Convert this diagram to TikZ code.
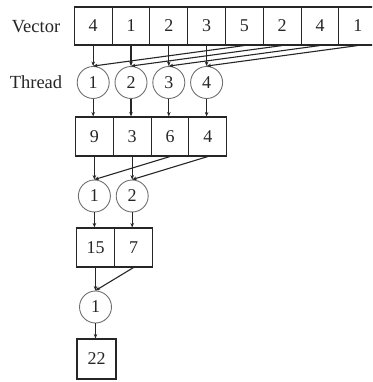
\documentclass[tikz,border=0pt]{standalone}
\usepackage{fontspec}
\setmainfont{Liberation Serif}
\usetikzlibrary{arrows.meta}
\definecolor{ink}{HTML}{262626}
\definecolor{ring}{HTML}{707070}
\tikzset{
  cell/.style={draw=ink, line width=1.1pt, minimum width=37.8pt, minimum height=38.5pt,
    inner sep=0pt, text=ink, font=\fontsize{18}{18}\selectfont},
  worker/.style={circle, draw=ring, line width=0.9pt, minimum size=32pt, inner sep=0pt,
    text=ink, font=\fontsize{18}{18}\selectfont},
  lbl/.style={text=ink, font=\fontsize{18.5}{18.5}\selectfont, inner sep=0pt},
  flow/.style={draw=ink, line width=1.1pt, -{Stealth[length=4.5pt,width=3.6pt]}}
}
\begin{document}
\begin{tikzpicture}[x=1pt, y=-1pt]
\useasboundingbox (0,0) rectangle (372,382);
\clip (0,0) rectangle (372,382);

% row labels
\node[lbl] (labV) at (36,27) {Vector};
\node[lbl] (labT) at (36,82) {Thread};

% input vector
\foreach \v [count=\i] in {4,1,2,3,5,2,4,1}
  \node[cell, minimum height=38pt] (v\i) at ({74.3+37.8*(\i-0.5)},26) {\v};

% first pass: four threads
\foreach \i in {1,...,4}
  \node[worker] (t\i) at ({74.3+37.8*(\i-0.5)},82.5) {\i};

% first partial sums
\foreach \v [count=\i] in {9,3,6,4}
  \node[cell, minimum height=39pt] (s\i) at ({75.5+37.8*(\i-0.5)},136.5) {\v};

% second pass: two threads
\foreach \i in {1,2}
  \node[worker] (u\i) at ({75.5+37.8*(\i-0.5)},196) {\i};

% second partial sums
\node[cell, minimum width=38pt, minimum height=39pt] (r1) at (95.5,247.5) {15};
\node[cell, minimum width=38pt, minimum height=39pt] (r2) at (133.5,247.5) {7};

% third pass: one thread
\node[worker] (w1) at (95.5,307) {1};

% result
\node[cell, minimum width=39pt, minimum height=40pt] (f) at (96.5,359) {22};

% connectors, pass 1
\foreach \i [evaluate=\i as \j using int(\i+4)] in {1,...,4} {
  \draw[flow] (v\i.south) -- (t\i.north);
  \draw[flow] (v\j.south) -- (t\i.north);
  \draw[flow] (t\i.south) -- (t\i.south |- s\i.north);
}

% connectors, pass 2
\foreach \i [evaluate=\i as \j using int(\i+2)] in {1,2} {
  \draw[flow] (s\i.south) -- (u\i.north);
  \draw[flow] (s\j.south) -- (u\i.north);
  \draw[flow] (u\i.south) -- (u\i.south |- r\i.north);
}

% connectors, pass 3
\draw[flow] (r1.south) -- (w1.north);
\draw[flow] (r2.south) -- (w1.north);
\draw[flow] (w1.south) -- (w1.south |- f.north);
\end{tikzpicture}
\end{document}
